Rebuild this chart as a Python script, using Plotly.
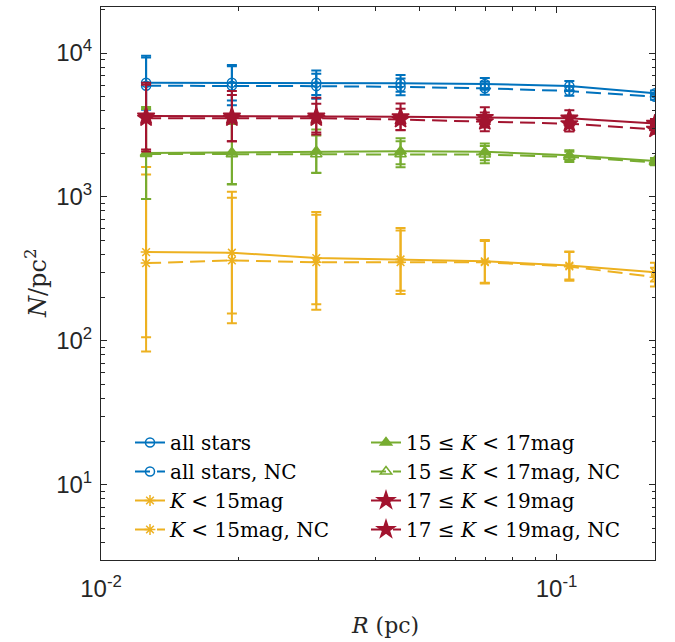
import plotly.graph_objects as go

# ---------------- data ----------------
R = [0.01256, 0.01938, 0.02969, 0.04546, 0.0696, 0.1067, 0.1645]

all_stars = [6220, 6220, 6220, 6165, 6100, 5900, 5250]
all_stars_dex = [0.188, 0.124, 0.085, 0.058, 0.041, 0.035, 0.02]
all_nc = [5930, 5930, 5890, 5820, 5690, 5450, 4970]
all_nc_dex = [0.196, 0.136, 0.087, 0.058, 0.045, 0.033, 0.02]

k15 = [414, 410, 376, 368, 357, 334, 300]
k15_dex = [0.592, 0.423, 0.32, 0.218, 0.148, 0.098, 0.065]
k15_nc = [347, 362, 352, 352, 352, 329, 277]
k15_nc_dex = [0.615, 0.436, 0.33, 0.221, 0.148, 0.10, 0.065]

k1517 = [2020, 2040, 2080, 2080, 2060, 1950, 1780]
k1517_dex = [0.32, 0.22, 0.15, 0.09, 0.058, 0.035, 0.02]
k1517_nc = [1990, 1980, 1980, 1980, 1970, 1900, 1740]
k1517_nc_dex = [0.313, 0.21, 0.13, 0.09, 0.06, 0.035, 0.02]

k1719 = [3650, 3650, 3650, 3610, 3570, 3530, 3245]
k1719_dex = [0.232, 0.175, 0.128, 0.092, 0.07, 0.055, 0.03]
k1719_nc = [3530, 3530, 3530, 3450, 3330, 3230, 2950]
k1719_nc_dex = [0.232, 0.16, 0.10, 0.075, 0.065, 0.055, 0.03]

y_tickvals = [10, 100, 1000, 10000]
y_ticktext = ["10<sup>1</sup>", "10<sup>2</sup>", "10<sup>3</sup>", "10<sup>4</sup>"]
x_tickvals = [0.01, 0.1]
x_ticktext = ["10<sup>-2</sup>", "10<sup>-1</sup>"]

labels = ["all stars", "all stars, NC",
          "<i>K</i> &lt; 15mag", "<i>K</i> &lt; 15mag, NC",
          "15 ≤ <i>K</i> &lt; 17mag", "15 ≤ <i>K</i> &lt; 17mag, NC",
          "17 ≤ <i>K</i> &lt; 19mag", "17 ≤ <i>K</i> &lt; 19mag, NC"]

BLUE, YELLOW, GREEN, RED = "#0072BD", "#EDB120", "#77AC30", "#A2142F"

series = [
    (all_stars, all_stars_dex, BLUE, "solid", "circle-open", 9, "legend"),
    (all_nc, all_nc_dex, BLUE, "15px,7px", "circle-open", 9, "legend"),
    (k15, k15_dex, YELLOW, "solid", "asterisk-open", 9, "legend"),
    (k15_nc, k15_nc_dex, YELLOW, "15px,7px", "asterisk-open", 9, "legend"),
    (k1517, k1517_dex, GREEN, "solid", "triangle-up", 10, "legend2"),
    (k1517_nc, k1517_nc_dex, GREEN, "15px,7px", "triangle-up-open", 10, "legend2"),
    (k1719, k1719_dex, RED, "solid", "star", 13, "legend2"),
    (k1719_nc, k1719_nc_dex, RED, "15px,7px", "star", 13, "legend2"),
]

fig = go.Figure()
for (vals, dex, col, dash, sym, msize, leg), name in zip(series, labels):
    plus = [v * (10 ** e - 1) for v, e in zip(vals, dex)]
    minus = [v * (1 - 10 ** (-e)) for v, e in zip(vals, dex)]
    fig.add_trace(go.Scatter(
        x=R, y=vals, name=name, mode="lines+markers", legend=leg,
        line=dict(color=col, width=2, dash=dash),
        marker=dict(symbol=sym, size=msize, color=col,
                    line=dict(color=col, width=1.5)),
        error_y=dict(type="data", symmetric=False, array=plus, arrayminus=minus,
                     color=col, thickness=2, width=5),
    ))

AX = "#262626"
tickfont = dict(family="Liberation Sans, Arial, sans-serif", size=24, color=AX)

minor_y = [m * 10 ** d for d in range(0, 5) for m in range(2, 10)]
minor_x = [m * 10 ** d for d in (-3, -2, -1) for m in range(2, 10)]

fig.update_xaxes(type="log", range=[-2, -0.7838],
                 showline=True, linecolor=AX, linewidth=1, mirror="allticks",
                 ticks="inside", ticklen=6, tickwidth=1, tickcolor=AX,
                 tickmode="array", tickvals=x_tickvals, ticktext=x_ticktext,
                 tickfont=tickfont, ticklabelstandoff=7,
                 showgrid=False, zeroline=False,
                 minor=dict(ticks="inside", ticklen=3.5, tickwidth=1, tickcolor=AX,
                            tickmode="array", tickvals=minor_x, showgrid=False))
fig.update_yaxes(type="log", range=[0.4771, 4.3202],
                 showline=True, linecolor=AX, linewidth=1, mirror="allticks",
                 ticks="inside", ticklen=6, tickwidth=1, tickcolor=AX,
                 tickmode="array", tickvals=y_tickvals, ticktext=y_ticktext,
                 tickfont=tickfont, ticklabelstandoff=3,
                 showgrid=False, zeroline=False,
                 minor=dict(ticks="inside", ticklen=3.5, tickwidth=1, tickcolor=AX,
                            tickmode="array", tickvals=minor_y, showgrid=False))

legfont = dict(family="DejaVu Serif, serif", size=20, color="black")
common_leg = dict(bgcolor="rgba(0,0,0,0)", borderwidth=0, font=legfont,
                  xref="paper", yref="paper", xanchor="left", yanchor="top",
                  traceorder="normal", itemclick=False)
W, H = 675, 642
L, Rm, T, B = 101, 20, 7, 82
pw, ph = W - L - Rm, H - T - B


def px(xp):
    return (xp - L) / pw


def py(yp):
    return (H - B - yp) / ph


fig.update_layout(
    width=W, height=H,
    margin=dict(l=L, r=Rm, t=T, b=B, pad=0),
    paper_bgcolor="white", plot_bgcolor="white",
    legend=dict(x=px(130), y=py(423), **common_leg),
    legend2=dict(x=px(366), y=py(423), **common_leg),
    annotations=[
        dict(text="<i>R</i> (pc)", x=px(385), y=py(625), xref="paper", yref="paper",
             xanchor="center", yanchor="middle", showarrow=False,
             font=dict(family="DejaVu Serif, serif", size=22, color=AX)),
        dict(text="<i>N</i>/pc<sup>2</sup>", x=px(36), y=py(283), xref="paper",
             yref="paper", xanchor="center", yanchor="middle", showarrow=False,
             textangle=-90,
             font=dict(family="DejaVu Serif, serif", size=24, color=AX)),
    ],
)

fig.write_html("out.html")
